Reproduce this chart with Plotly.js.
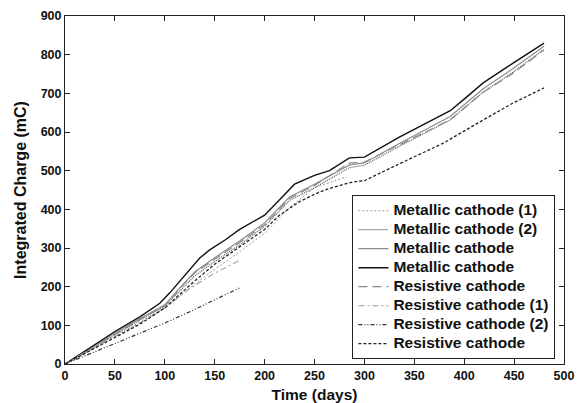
<!DOCTYPE html>
<html>
<head>
<meta charset="utf-8">
<script src="https://cdn.plot.ly/plotly-3.0.1.min.js"></script>
<style>body{margin:0;padding:0;background:#fff}#chart{width:577px;height:403px}</style>
</head>
<body>
<div id="chart"></div>
<script>
// Series data (days, integrated charge in mC)
var metal1Days = [0, 25, 50, 75, 100, 115, 130, 150, 175, 200, 225, 250, 282];
var metal1Vals = [0, 36, 74, 110, 145, 175, 207, 245, 290, 338, 405, 456, 484];

var metal2Days = [0, 25, 50, 75, 100, 115, 130, 150, 175, 200, 225, 250, 285, 300, 335, 386, 419, 449, 480];
var metal2Vals = [0, 38, 77, 114, 150, 190, 228, 265, 308, 356, 423, 456, 508, 514, 563, 631, 703, 755, 814];

var metal3Days = [0, 25, 50, 75, 100, 115, 130, 150, 175, 200, 225, 250, 285, 300, 335, 386, 419, 449, 480];
var metal3Vals = [0, 40, 80, 117, 153, 197, 238, 275, 318, 365, 432, 465, 515, 520, 570, 640, 712, 764, 822];

var metal4Days = [0, 25, 50, 75, 85, 95, 105, 115, 125, 135, 145, 160, 175, 200, 215, 230, 250, 265, 285, 300, 335, 360, 386, 400, 419, 449, 480];
var metal4Vals = [0, 42, 84, 122, 140, 157, 184, 215, 246, 274, 295, 320, 348, 385, 425, 465, 488, 500, 533, 535, 587, 620, 655, 685, 727, 778, 830];

var resist1Days = [0, 25, 50, 75, 100, 115, 130, 150, 175, 200, 225, 250, 285, 300, 335, 386, 419, 449, 480];
var resist1Vals = [0, 39, 78, 115, 150, 195, 236, 270, 314, 360, 428, 462, 520, 522, 566, 632, 703, 752, 812];

var resist2Days = [0, 25, 50, 75, 100, 125, 150, 175];
var resist2Vals = [0, 35, 70, 106, 145, 195, 235, 268];

var resist3Days = [0, 25, 50, 75, 100, 125, 150, 175];
var resist3Vals = [0, 26, 52, 78, 106, 135, 166, 197];

var resist4Days = [0, 25, 50, 75, 100, 130, 150, 175, 200, 215, 235, 255, 270, 289, 300, 336, 379, 419, 449, 480];
var resist4Vals = [0, 34, 68, 103, 145, 215, 258, 302, 348, 385, 420, 445, 458, 471, 474, 519, 571, 631, 675, 714];

var seriesNames = ['Metallic cathode (1)', 'Metallic cathode (2)', 'Metallic cathode', 'Metallic cathode',
                   'Resistive cathode', 'Resistive cathode (1)', 'Resistive cathode (2)', 'Resistive cathode'];

var xTicks = [0, 50, 100, 150, 200, 250, 300, 350, 400, 450, 500];
var yTicks = [0, 100, 200, 300, 400, 500, 600, 700, 800, 900];

var xs = [metal1Days, metal2Days, metal3Days, metal4Days, resist1Days, resist2Days, resist3Days, resist4Days];
var ys = [metal1Vals, metal2Vals, metal3Vals, metal4Vals, resist1Vals, resist2Vals, resist3Vals, resist4Vals];
var styles = [
  {color: '#9a9a9a', dash: '2px,2px', width: 1},
  {color: '#555555', dash: '1px,1px', width: 1.2},
  {color: '#8c8c8c', dash: 'solid', width: 1.2},
  {color: '#111111', dash: 'solid', width: 1.4},
  {color: '#8a8a8a', dash: '9px,5px', width: 1.2},
  {color: '#a0a0a0', dash: '6px,3px,2px,3px', width: 1.1},
  {color: '#333333', dash: '4px,2px,1px,2px,1px,2px', width: 1.2},
  {color: '#222222', dash: '3px,2px', width: 1.3}
];

var traces = xs.map(function(x, i) {
  return {x: x, y: ys[i], name: '<span style="font-size:15.5px">' + seriesNames[i] + '</span>',
          type: 'scatter', mode: 'lines', line: styles[i]};
});

var fnt = 'Liberation Sans, Arial, Helvetica, sans-serif';
var layout = {
  width: 577, height: 403,
  margin: {l: 65, r: 13, t: 16, b: 39},
  paper_bgcolor: '#fff', plot_bgcolor: '#fff',
  showlegend: true,
  font: {family: fnt, color: '#111'},
  xaxis: {range: [0, 500], tickvals: xTicks, ticktext: xTicks.map(String),
          showgrid: false, zeroline: false, showline: true, mirror: 'ticks',
          linecolor: '#222', linewidth: 1, ticks: 'inside', ticklen: 5, tickcolor: '#222',
          tickfont: {family: fnt, size: 12.5, color: '#111', weight: 'bold'},
          title: {text: '<b>Time (days)</b>', font: {family: fnt, size: 15.5, color: '#111'}, standoff: 7}},
  yaxis: {range: [0, 900], tickvals: yTicks, ticktext: yTicks.map(String),
          showgrid: false, zeroline: false, showline: true, mirror: 'ticks',
          linecolor: '#222', linewidth: 1, ticks: 'inside', ticklen: 5, tickcolor: '#222',
          tickfont: {family: fnt, size: 12.5, color: '#111', weight: 'bold'},
          title: {text: '<b>Integrated Charge (mC)</b>', font: {family: fnt, size: 16, color: '#111'}, standoff: 10}},
  legend: {x: 0.576, y: 0.485, xanchor: 'left', yanchor: 'top',
           bgcolor: '#fff', bordercolor: '#222', borderwidth: 1,
           font: {family: fnt, size: 11.6, color: '#111', weight: 'bold'},
           tracegroupgap: 0}
};

Plotly.newPlot('chart', traces, layout, {staticPlot: true, displayModeBar: false});
</script>
</body>
</html>
